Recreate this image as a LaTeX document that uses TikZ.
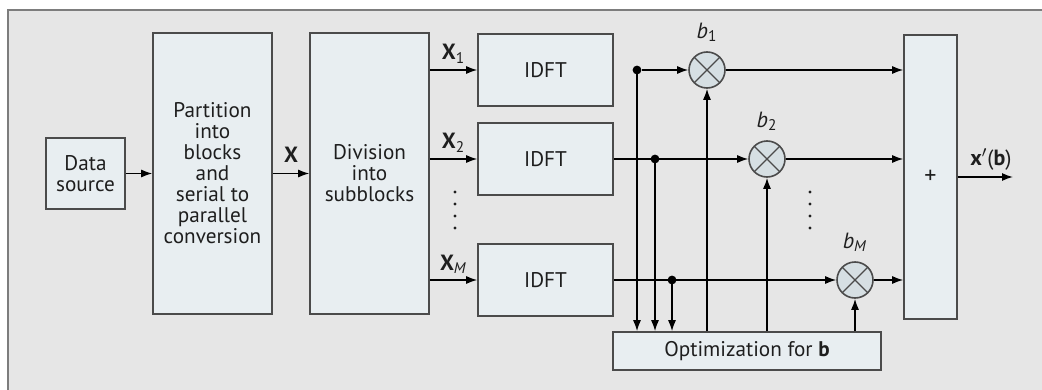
\documentclass[tikz,border=0pt]{standalone}
\usepackage{fontspec}
\setmainfont{PT Sans}
\usetikzlibrary{arrows.meta}
\definecolor{framefill}{RGB}{230,230,230}
\definecolor{framedraw}{RGB}{125,125,125}
\definecolor{boxfill}{RGB}{232,238,241}
\definecolor{boxdraw}{RGB}{75,75,75}
\definecolor{multfill}{RGB}{214,223,227}
\definecolor{textcol}{RGB}{30,30,30}

\begin{document}
\begin{tikzpicture}[x=0.5pt, y=-0.5pt, >={Latex[length=5.5pt, width=4pt]},
    block/.style={draw=boxdraw, fill=boxfill, line width=0.8pt, inner sep=0pt,
        align=center, text=textcol, font=\fontsize{10.6}{10.5}\selectfont},
    mult/.style={draw=boxdraw, fill=multfill, line width=0.8pt, circle,
        minimum size=18pt, inner sep=0pt,
        path picture={\draw[boxdraw, line width=0.6pt]
            (path picture bounding box.north west) -- (path picture bounding box.south east)
            (path picture bounding box.north east) -- (path picture bounding box.south west);}},
    junc/.style={circle, fill=black, inner sep=0pt, minimum size=4.4pt},
    lbl/.style={text=textcol, font=\fontsize{11}{11}\selectfont, inner sep=1pt},
    wire/.style={line width=0.7pt}]

        % Frame
        \useasboundingbox (0,0) rectangle (1042,390);
        \fill[framefill] (8,10) rectangle (1042,390);
        \draw[framedraw, line width=0.8pt] (8,390) -- (8,10) -- (1042,10);

        % Source, partition and division
        \node[block, minimum width=39.5pt, minimum height=35.5pt] (src) at (85.5,173.5) {Data\\source};
        \node[block, minimum width=59.5pt, minimum height=140.5pt] (part) at (212.5,173.5)
            {Partition\\into\\blocks\\and\\serial to\\parallel\\conversion};
        \node[block, minimum width=59.5pt, minimum height=140.5pt] (div) at (369.5,173.5)
            {Division\\into\\subblocks};

        \draw[wire, ->] (src) -- (part);
        \draw[wire, ->] (part) -- node[lbl, above=4pt] {\textbf{X}} (div);

        % IDFT blocks
        \foreach \r/\y in {1/70, 2/159, 3/280} {
            \node[block, minimum width=67.5pt, minimum height=36pt] (idft\r) at (545.5,\y) {IDFT};
        }
        \draw[wire, ->] (div.east |- idft1.west) -- node[lbl, above=2pt] {\textbf{X}\textsubscript{1}} (idft1.west);
        \draw[wire, ->] (div.east |- idft2.west) -- node[lbl, above=2pt] {\textbf{X}\textsubscript{2}} (idft2.west);
        \draw[wire, ->] (div.east |- idft3.west) -- node[lbl, above=2pt] {\textbf{X}\textsubscript{\textit{M}}} (idft3.west);
        \foreach \y in {192,204,216,228} {
            \fill[textcol] (455,\y) circle (0.85pt);
        }

        % Multipliers and sum
        \node[mult] (m1) at (707,70) {};
        \node[mult] (m2) at (767,159) {};
        \node[mult] (m3) at (855,280) {};
        \node[lbl, anchor=south] (b1) at ([yshift=3.5pt]m1.north) {\textit{b}\textsubscript{1}};
        \node[lbl, anchor=south] (b2) at ([yshift=3.5pt]m2.north) {\textit{b}\textsubscript{2}};
        \node[lbl, anchor=south] (bM) at ([yshift=3.5pt]m3.north) {\textit{b}\textsubscript{\textit{M}}};
        \foreach \y in {192,204,216,228} {
            \fill[textcol] (810,\y) circle (0.85pt);
        }
        \node[block, minimum width=26.5pt, minimum height=142pt, font=\fontsize{12}{12}\selectfont] (plus) at (930.5,177) {+};
        \node[block, minimum width=134pt, minimum height=19pt] (opt) at (747,351) {Optimization for \textbf{b}};

        % Taps
        \node[junc] (d1) at (637,70) {};
        \node[junc] (d2) at (655,159) {};
        \node[junc] (d3) at (672,280) {};

        \draw[wire, ->] (d1) -- (m1);
        \draw[wire, ->] (idft2) -- (m2);
        \draw[wire, ->] (idft3) -- (m3);
        \foreach \d in {d1,d2,d3} {
            \draw[wire, ->] (\d.center) -- (\d |- opt.north);
        }
        \foreach \m in {m1,m2,m3} {
            \draw[wire, ->] (\m |- opt.north) -- (\m);
            \draw[wire, ->] (\m) -- (\m -| plus.west);
        }

        % Output
        \coordinate (out) at (1013,177);
        \draw[wire, ->] (plus) -- node[lbl, above=2pt, pos=0.6] {\textbf{x}$'$(\textbf{b})} (out);

\end{tikzpicture}
\end{document}
